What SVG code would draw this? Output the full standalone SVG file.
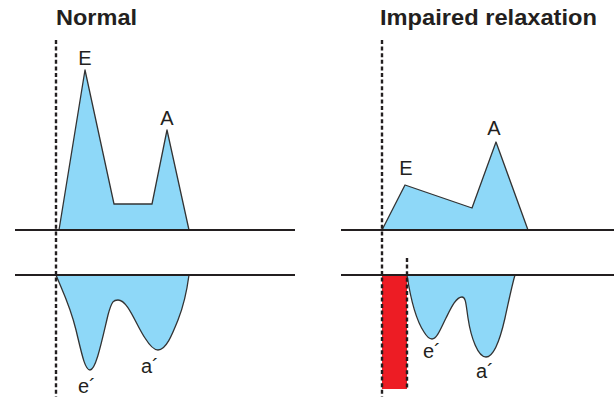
<svg xmlns="http://www.w3.org/2000/svg" width="614" height="397" viewBox="0 0 614 397">
<style>
.title{font-family:"Liberation Sans",Arial,sans-serif;font-weight:bold;font-size:22px;fill:#231f20}
.lbl{font-family:"Liberation Sans",Arial,sans-serif;font-size:20px;fill:#231f20}
.wave{fill:#8ed8f8;stroke:#333;stroke-width:1.3;stroke-linejoin:round}
.axis{stroke:#231f20;stroke-width:2.2;fill:none}
.dash{stroke:#231f20;stroke-width:2.4;stroke-dasharray:4 2.6;fill:none}
</style>
<rect width="614" height="397" fill="#fff"/>
<g id="normal">
  <text class="title" x="56" y="25" textLength="81" lengthAdjust="spacingAndGlyphs">Normal</text>
  <path class="wave" d="M59,230 L85,70 L114,204 L152,204 L167,130 L189,230 Z"/>
  <path class="wave" d="M56,275 C62,290 70,305 76,330 C82,355 85,370 90,370 C96,370 102,340 108,315 C112,300 114,300 118,300 C128,300 136,325 145,338 C150,346 154,350 158,350 C166,350 172,335 178,320 C184,305 187,290 189,275 Z"/>
  <line class="axis" x1="15" y1="230" x2="295" y2="230"/>
  <line class="axis" x1="15" y1="275" x2="295" y2="275"/>
  <line class="dash" x1="56" y1="40" x2="56" y2="397"/>
  <text class="lbl" x="85" y="65" text-anchor="middle">E</text>
  <text class="lbl" x="167" y="125" text-anchor="middle">A</text>
  <text class="lbl" x="78" y="393">e´</text>
  <text class="lbl" x="141" y="373">a´</text>
</g>
<g id="impaired">
  <text class="title" x="380" y="25" textLength="217" lengthAdjust="spacingAndGlyphs">Impaired relaxation</text>
  <path class="wave" d="M382,230 L405,185 L472,208 L496,142 L528,230 Z"/>
  <rect x="382" y="275" width="25" height="114" fill="#ed1c24"/>
  <path class="wave" d="M407,275 C410,295 416,320 424,332 C427,337 429,339 432,339 C437,339 441,328 446,318 C451,308 456,297 462,297 C466,297 466,305 468,318 C471,338 478,357 486,357 C494,357 500,340 505,318 C509,300 512,285 515,275 Z"/>
  <line class="axis" x1="341" y1="230" x2="614" y2="230"/>
  <line class="axis" x1="341" y1="275" x2="614" y2="275"/>
  <line class="dash" x1="382" y1="40" x2="382" y2="397"/>
  <line class="dash" x1="407" y1="258" x2="407" y2="389"/>
  <text class="lbl" x="406" y="175" text-anchor="middle">E</text>
  <text class="lbl" x="494" y="135" text-anchor="middle">A</text>
  <text class="lbl" x="423" y="358">e´</text>
  <text class="lbl" x="476" y="378">a´</text>
</g>
</svg>
